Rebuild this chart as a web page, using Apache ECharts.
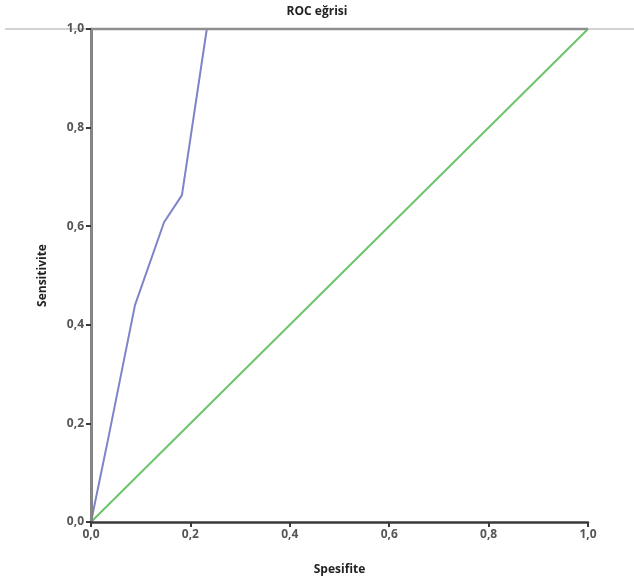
<!DOCTYPE html>
<html>
<head>
<meta charset="utf-8">
<script src="https://cdn.jsdelivr.net/npm/echarts@6/dist/echarts.min.js"></script>
<style>
  html, body { margin: 0; padding: 0; background: #fff; }
  #chart { width: 634px; height: 581px; }
</style>
</head>
<body>
<div id="chart"></div>
<script>
// ROC curve points: [1 - specificity, sensitivity]
const rocX = [0, 0.034, 0.0885, 0.147, 0.183, 0.233, 1];
const rocY = [0, 0.166, 0.44, 0.608, 0.663, 1, 1];
const refX = [0, 1];
const refY = [0, 1];

const FONT = "Open Sans";
const fmt = (v) => v.toFixed(1).replace(".", ",");

const chart = echarts.init(document.getElementById("chart"));

const axisBase = {
  type: "value",
  min: 0,
  max: 1,
  interval: 0.2,
  z: 10,
  splitLine: { show: false },
  axisTick: { show: true, length: 5, lineStyle: { color: "#3a3a3a", width: 2 } },
  axisLine: { show: true, lineStyle: { color: "#3a3a3a", width: 2.5 } },
  axisLabel: {
    color: "#555",
    fontFamily: FONT,
    fontSize: 12,
    fontWeight: "bold",
    margin: 7,
    formatter: fmt,
  },
  nameLocation: "middle",
  nameTextStyle: {
    color: "#222",
    fontFamily: FONT,
    fontSize: 12,
    fontWeight: "bold",
  },
};

const frameAxis = {
  type: "value",
  min: 0,
  max: 1,
  z: 10,
  axisLine: { show: true, lineStyle: { color: "#8a8a8a", width: 2.5 } },
  axisTick: { show: false },
  axisLabel: { show: false },
  splitLine: { show: false },
};

chart.setOption({
  animation: false,
  title: {
    text: "ROC eğrisi",
    left: "center",
    top: 1,
    textStyle: { fontFamily: FONT, fontSize: 12, fontWeight: "bold", color: "#222" },
  },
  grid: { left: 91, right: 46, top: 29, bottom: 59, show: false },
  graphic: [
    {
      type: "line",
      z: 0,
      shape: { x1: 5, y1: 29, x2: 634, y2: 29 },
      style: { stroke: "#d2d2d2", lineWidth: 2 },
    },
    {
      // frame top edge drawn over the curve, as in the source
      type: "line",
      z: 100,
      shape: { x1: 92, y1: 29, x2: 588, y2: 29 },
      style: { stroke: "#8f8f8f", lineWidth: 2.5 },
    },
  ],
  xAxis: [
    Object.assign({}, axisBase, { name: "Spesifite", nameGap: 42 }),
    Object.assign({}, frameAxis, { position: "top", axisLine: { show: false } }),
  ],
  yAxis: [
    Object.assign({}, axisBase, { name: "Sensitivite", nameGap: 42 }),
    Object.assign({}, frameAxis, { position: "right" }),
  ],
  series: [
    {
      type: "line",
      data: refX.map((x, i) => [x, refY[i]]),
      showSymbol: false,
      lineStyle: { color: "#6cc46c", width: 2 },
      z: 3,
    },
    {
      type: "line",
      data: rocX.map((x, i) => [x, rocY[i]]),
      showSymbol: false,
      lineStyle: { color: "#7d84c8", width: 2 },
      z: 4,
    },
  ],
});
</script>
</body>
</html>
